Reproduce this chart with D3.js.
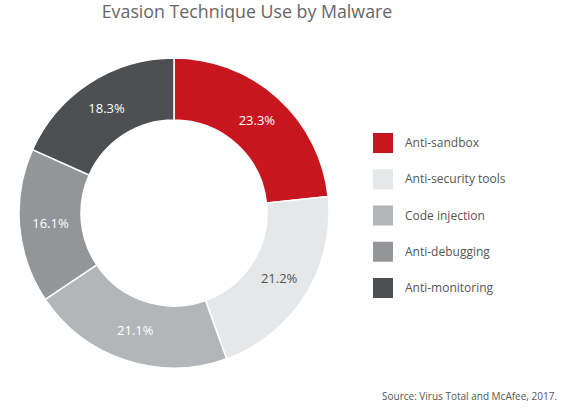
<!DOCTYPE html>
<html><head><meta charset="utf-8">
<script src="https://cdn.jsdelivr.net/npm/d3@7"></script>
<style>body{margin:0;background:#fff;}svg{display:block;font-family:"Open Sans",sans-serif;}</style>
</head><body>
<svg id="c" width="562" height="408"></svg>
<script>
const categories = ["Anti-sandbox","Anti-security tools","Code injection","Anti-debugging","Anti-monitoring"];
const values = [23.3,21.2,21.1,16.1,18.3];
const colors = ["#c8161e","#e6e7e8","#b3b6b9","#939598","#4d4f53"];
const labelColors = ["#ffffff","#555555","#ffffff","#ffffff","#ffffff"];
const title = "Evasion Technique Use by Malware";
const source = "Source: Virus Total and McAfee, 2017.";

const svg = d3.select("#c");
svg.append("text").attr("x",247).attr("y",18).attr("text-anchor","middle")
  .attr("font-size",17.8).attr("fill","#666").text(title);

const cx=174, cy=213, rOut=155, rIn=93;
const pie = d3.pie().sort(null).value(d=>d)(values);
const arc = d3.arc().innerRadius(rIn).outerRadius(rOut);
const g = svg.append("g").attr("transform",`translate(${cx},${cy})`);
g.selectAll("path").data(pie).join("path").attr("d",arc)
  .attr("fill",(d,i)=>colors[i]).attr("stroke","#fff").attr("stroke-width",1.5);
g.selectAll("text").data(pie).join("text")
  .attr("transform",d=>`translate(${arc.centroid(d)})`)
  .attr("text-anchor","middle").attr("dy","0.35em").attr("font-size",13)
  .attr("fill",(d,i)=>labelColors[i]).text(d=>d.value.toFixed(1)+"%");

const y = d3.scalePoint().domain(categories).range([143,288]);
const lg = svg.append("g");
lg.selectAll("rect").data(categories).join("rect")
  .attr("x",373).attr("y",d=>y(d)-10).attr("width",20).attr("height",20)
  .attr("fill",(d,i)=>colors[i]);
lg.selectAll("text").data(categories).join("text")
  .attr("x",405).attr("y",d=>y(d)).attr("dy","0.35em").attr("font-size",12)
  .attr("fill","#555").text(d=>d);

svg.append("text").attr("x",557).attr("y",400).attr("text-anchor","end")
  .attr("font-size",10).attr("fill","#555").text(source);
</script>
</body></html>
